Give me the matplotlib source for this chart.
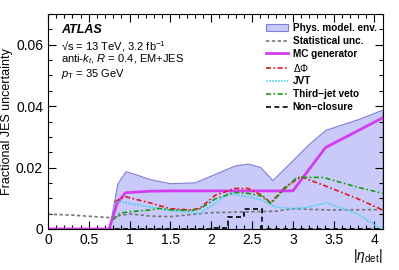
import numpy as np
import matplotlib
matplotlib.use("Agg")
import matplotlib.pyplot as plt
from matplotlib.ticker import MultipleLocator

plt.rcParams['font.family'] = ['Liberation Sans', 'DejaVu Sans']
plt.rcParams['mathtext.fontset'] = 'custom'
plt.rcParams['mathtext.rm'] = 'Liberation Sans'
plt.rcParams['mathtext.it'] = 'Liberation Sans:italic'

# physics modelling envelope (upper edge, filled from 0)
env_x = [0, 0.75, 0.85, 0.95, 1.1, 1.25, 1.5, 1.8, 2.05, 2.29, 2.45, 2.6, 2.75, 3.0, 3.2, 3.4, 3.8, 4.1]
env_y = [0, 0, 0.0148, 0.0188, 0.0176, 0.0162, 0.0149, 0.0152, 0.018, 0.0207, 0.0213, 0.0202,
         0.0159, 0.0225, 0.0278, 0.0323, 0.0358, 0.0389]

stat_x = [0, 0.3, 0.75, 0.8, 1.0, 1.25, 1.5, 1.8, 2.0, 2.5, 2.8, 3.0, 3.4, 4.1]
stat_y = [0.0048, 0.0045, 0.0037, 0.004, 0.0049, 0.0042, 0.004, 0.0048, 0.0053, 0.0056, 0.0058,
          0.0066, 0.0062, 0.0063]

mc_x = [0, 0.75, 0.85, 0.95, 1.25, 1.5, 3.0, 3.4, 4.1]
mc_y = [0, 0, 0.0085, 0.0118, 0.0123, 0.0124, 0.0124, 0.0265, 0.0362]

dphi_x = [0.82, 0.88, 0.95, 1.1, 1.25, 1.5, 1.75, 1.86, 2.05, 2.29, 2.45, 2.62, 2.73, 2.9, 3.1,
          3.37, 3.78, 4.1]
dphi_y = [0.0088, 0.0098, 0.0105, 0.0095, 0.0085, 0.0066, 0.0062, 0.0067, 0.011, 0.0132, 0.0132,
          0.011, 0.0085, 0.0135, 0.017, 0.0143, 0.010, 0.0062]

jvt_x = [0.84, 0.9, 1.0, 1.25, 1.5, 1.86, 2.05, 2.21, 2.45, 2.62, 2.78, 3.0, 3.17, 3.41, 3.78,
         4.05, 4.1]
jvt_y = [0.0089, 0.0088, 0.0083, 0.0072, 0.006, 0.0051, 0.0083, 0.0116, 0.0105, 0.0094, 0.0072,
         0.0066, 0.007, 0.0085, 0.0051, 0.0005, 0.0003]

tjv_x = [0.8, 0.88, 1.0, 1.25, 1.37, 1.5, 1.75, 1.86, 2.05, 2.29, 2.45, 2.62, 2.73, 2.9, 3.05,
         3.37, 3.78, 4.1]
tjv_y = [0.003, 0.0051, 0.0056, 0.0062, 0.0067, 0.0062, 0.006, 0.0065, 0.0098, 0.0119, 0.0116,
         0.0107, 0.0083, 0.013, 0.0168, 0.0168, 0.0137, 0.0116]

# non-closure is binned
nc_edges = [0, 2.0, 2.2, 2.4, 2.62, 4.1]
nc_vals = [0, 0.0003, 0.004, 0.0065, 0]

fig = plt.figure(figsize=(3.99, 2.70), dpi=100)
ax = fig.add_axes([0.120, 0.152, 0.839, 0.796])

ax.fill_between(env_x, 0, env_y, facecolor='#c9c9fa', edgecolor='#8080d8', linewidth=0.8,
                label='Phys. model. env.')
ax.plot(stat_x, stat_y, color='#777777', linestyle=(0, (2, 1.5)), linewidth=1.2,
        label='Statistical unc.')
ax.plot(mc_x, mc_y, color='#d43cf2', linewidth=2.0, label='MC generator')
ax.plot(dphi_x, dphi_y, color='#e01818', linestyle=(0, (3, 1.5, 1, 1.5)), linewidth=1.2,
        label=r'$\Delta\Phi$')
ax.plot(jvt_x, jvt_y, color='#3fd8ec', linestyle=(0, (1, 0.8)), linewidth=1.2, label='JVT')
ax.plot(tjv_x, tjv_y, color='#12a012', linestyle=(0, (3, 1.5, 1, 1.5)), linewidth=1.2,
        label='Third\u2212jet veto')
ax.stairs(nc_vals, nc_edges, color='black', linestyle=(0, (3, 2)), linewidth=1.2,
          baseline=None, label='Non\u2212closure')

ax.set_xlim(0, 4.1)
ax.set_ylim(0, 0.07)
ax.xaxis.set_minor_locator(MultipleLocator(0.1))
ax.yaxis.set_minor_locator(MultipleLocator(0.005))
ax.set_xticks([0, 0.5, 1, 1.5, 2, 2.5, 3, 3.5, 4])
ax.set_xticklabels(['0', '0.5', '1', '1.5', '2', '2.5', '3', '3.5', '4'])
ax.set_yticks([0, 0.02, 0.04, 0.06])
ax.set_yticklabels(['0', '0.02', '0.04', '0.06'])
ax.tick_params(which='both', direction='in', top=True, right=True, labelsize=10)
ax.tick_params(which='major', length=6, width=0.8)
ax.tick_params(which='minor', length=3, width=0.8)
ax.tick_params(axis='x', pad=3)

ax.set_ylabel('Fractional JES uncertainty', fontsize=9, labelpad=2)
ax.set_xlabel(r'$|\eta_{\mathrm{det}}|$', fontsize=10, loc='right', labelpad=0)

ax.text(0.04, 0.955, 'ATLAS', transform=ax.transAxes, fontsize=9, fontweight='bold',
        fontstyle='italic', va='top')
ax.text(0.04, 0.885, '\u221as = 13 TeV, 3.2 fb$^{-1}$', transform=ax.transAxes,
        fontsize=8, va='top')
ax.text(0.04, 0.82, r'anti-$k_{t}$, $R$ = 0.4, EM+JES', transform=ax.transAxes,
        fontsize=8, va='top')
ax.text(0.04, 0.755, r'$p_{\mathrm{T}}$ = 35 GeV', transform=ax.transAxes, fontsize=8,
        va='top')

leg = ax.legend(loc='upper right', frameon=False, fontsize=7.2, handlelength=2.2,
                handletextpad=0.5, labelspacing=0.28, borderaxespad=0.2,
                bbox_to_anchor=(1.0, 0.985))
for t in leg.get_texts():
    if 'Phi' not in t.get_text():
        t.set_fontweight('bold')

fig.savefig('out.png', dpi=100)
